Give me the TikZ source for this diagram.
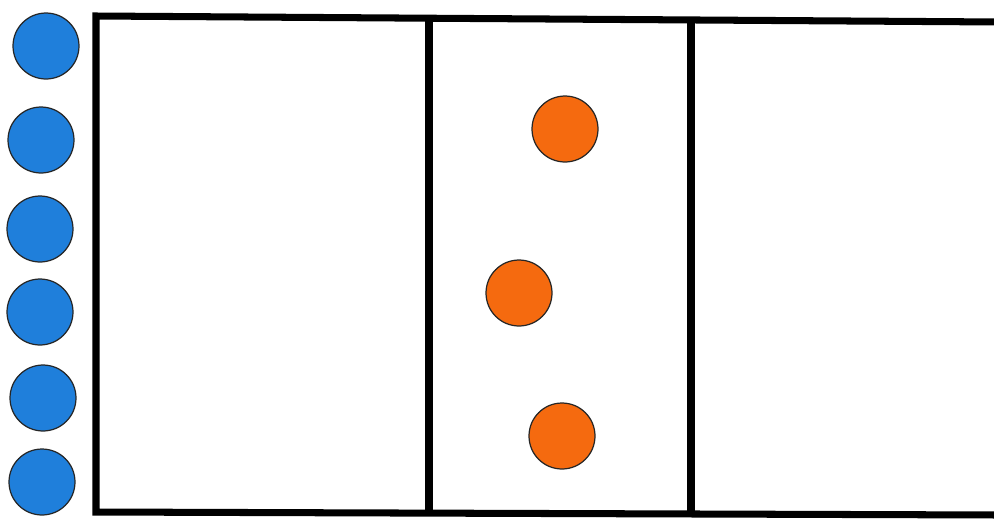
\documentclass[tikz,border=0pt]{standalone}
\usepackage{tikz}
\usetikzlibrary{positioning}

\definecolor{ballblue}{HTML}{1F7FDB}
\definecolor{ballorange}{HTML}{F56A0F}

\begin{document}
\begin{tikzpicture}[x=0.02cm, y=-0.02cm, line join=miter]
    \useasboundingbox (0,0) rectangle (994,518);
    \tikzset{
        ball/.style={circle, draw=black!85, line width=0.7pt, minimum size=1.32cm, inner sep=0pt},
        blueball/.style={ball, fill=ballblue},
        orangeball/.style={ball, fill=ballorange},
        wall/.style={line width=4pt, black}
    }

    % Corners of the box
    \coordinate (tl) at (96, 16);
    \coordinate (bl) at (96, 512);
    \coordinate (tr) at (1000, 22);
    \coordinate (br) at (1000, 515);
    \coordinate (m1t) at (429, 18);
    \coordinate (m1b) at (429, 513);
    \coordinate (m2t) at (691, 20);
    \coordinate (m2b) at (691, 514);

    % Box and walls
    \draw[wall] (tr) -- (tl) -- (bl) -- (br);
    \draw[wall] (m1t) -- (m1b);
    \draw[wall] (m2t) -- (m2b);

    % Blue balls outside
    \foreach \i/\x/\y in {1/46/46, 2/41/140, 3/40/229, 4/40/312, 5/43/398, 6/42/482}
        \node[blueball] (b\i) at (\x, \y) {};

    % Orange balls in the middle
    \node[orangeball] (o1) at (565, 129) {};
    \node[orangeball] (o2) at (519, 293) {};
    \node[orangeball] (o3) at (562, 436) {};
\end{tikzpicture}
\end{document}
